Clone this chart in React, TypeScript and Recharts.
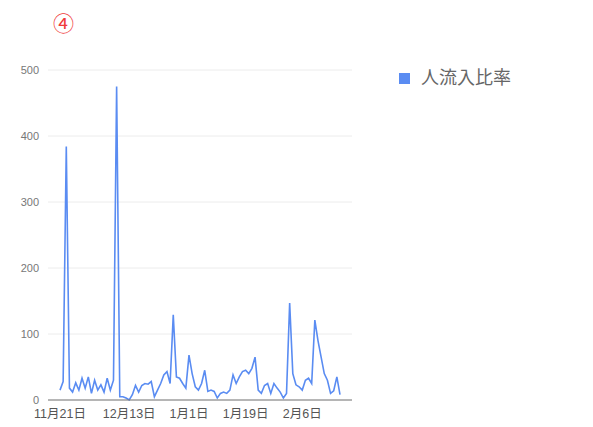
import React from "react";
import { LineChart, Line, XAxis, YAxis, CartesianGrid } from "recharts";

const startMonth = 11;
const startDay = 21;
const values: number[] = [
  15, 28, 384, 18, 12, 26, 15, 33, 18, 35,
  10, 30, 15, 23, 12, 33, 15, 30, 475, 5,
  5, 3, 0, 8, 22, 12, 22, 25, 24, 28,
  5, 15, 25, 38, 43, 25, 129, 35, 33, 25,
  18, 68, 40, 20, 15, 25, 45, 13, 15, 13,
  3, 10, 12, 10, 15, 38, 25, 35, 43, 45,
  40, 48, 65, 15, 10, 22, 25, 10, 25, 18,
  12, 3, 10, 147, 40, 23, 20, 15, 30, 33,
  25, 121, 90, 65, 40, 30, 10, 14, 35, 8,
];
const xTicks = ["11月21日", "12月13日", "1月1日", "1月19日", "2月6日"];
const yTicks = [0, 100, 200, 300, 400, 500];
const seriesName = "人流入比率";
const title = "④";

const monthDays: Record<number, number> = { 11: 30, 12: 31, 1: 31, 2: 29 };
function buildDates(n: number): string[] {
  const out: string[] = [];
  let m = startMonth;
  let d = startDay;
  for (let i = 0; i < n; i++) {
    out.push(`${m}月${d}日`);
    d++;
    if (d > monthDays[m]) {
      d = 1;
      m = m === 12 ? 1 : m + 1;
    }
  }
  return out;
}
const dates = buildDates(values.length);
const data = values.map((v, i) => ({ date: dates[i], value: v }));

const FONT = "Arial, 'Liberation Sans', 'Noto Sans CJK JP', sans-serif";
const LINE_COLOR = "#5a8cf2";

export default function App() {
  return (
    <div
      style={{
        position: "absolute",
        left: 0,
        top: 0,
        width: 593,
        height: 427,
        background: "#fff",
        fontFamily: FONT,
      }}
    >
      <div
        style={{
          position: "absolute",
          left: 53,
          top: 8,
          color: "#f03a3a",
          fontSize: 21,
          fontFamily: "'Noto Sans CJK JP', sans-serif",
          lineHeight: "28px",
        }}
      >
        {title}
      </div>
      <div
        style={{
          position: "absolute",
          left: 399,
          top: 66,
          display: "flex",
          alignItems: "center",
          zIndex: 2,
        }}
      >
        <div style={{ width: 11, height: 11, background: LINE_COLOR, marginRight: 11 }} />
        <span style={{ fontSize: 18, color: "#666", lineHeight: "24px" }}>{seriesName}</span>
      </div>
      <LineChart
        width={593}
        height={427}
        data={data}
        margin={{ top: 70, right: 241, bottom: 0, left: 8 }}
      >
        <CartesianGrid vertical={false} stroke="#ececec" strokeWidth={1} />
        <XAxis
          dataKey="date"
          height={27}
          ticks={xTicks}
          interval={0}
          padding={{ left: 12, right: 12 }}
          tickLine={false}
          axisLine={{ stroke: "#777", strokeWidth: 1 }}
          tick={{ fontSize: 12.5, fill: "#555", fontFamily: FONT }}
          tickMargin={3}
        />
        <YAxis
          width={40}
          domain={[0, 500]}
          ticks={yTicks}
          tickLine={false}
          axisLine={false}
          tick={{ fontSize: 11, fill: "#777", fontFamily: FONT }}
          tickMargin={3}
        />
        <Line
          type="linear"
          dataKey="value"
          name={seriesName}
          stroke={LINE_COLOR}
          strokeWidth={1.6}
          dot={false}
          isAnimationActive={false}
        />
      </LineChart>
    </div>
  );
}
